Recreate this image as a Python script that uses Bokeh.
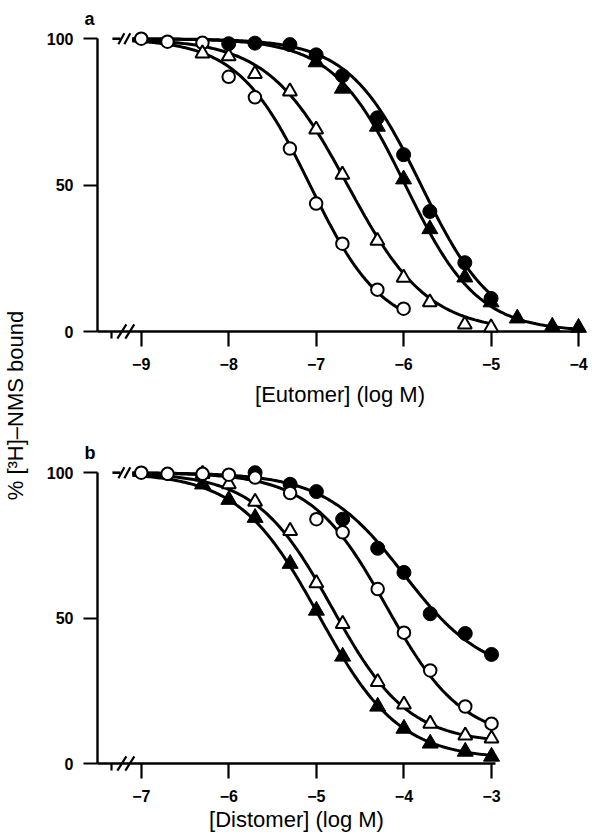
import numpy as np
from bokeh.plotting import figure
from bokeh.layouts import row, column
from bokeh.models import Range1d, FixedTicker
from bokeh.embed import file_html
from bokeh.resources import INLINE
from bokeh.core.properties import value

FONT = "Liberation Sans"

# ---------------- Panel a (eutomer) ----------------
a_x_ticks = [-9.0, -8.0, -7.0, -6.0, -5.0, -4.0]
a_x_labels = ["\u22129", "\u22128", "\u22127", "\u22126", "\u22125", "\u22124"]
a_x_title = "[Eutomer] (log M)"

a_open_circle_x = [-9.0, -8.7, -8.3, -8.0, -7.7, -7.3, -7.0, -6.7, -6.3, -6.0]
a_open_circle_y = [100, 99, 98.6, 87, 80, 62.5, 43.7, 30, 14.3, 7.8]
a_open_tri_x = [-8.3, -8.0, -7.7, -7.3, -7.0, -6.7, -6.3, -6.0, -5.7, -5.3, -5.0]
a_open_tri_y = [95, 94, 88, 82, 69, 53.6, 31, 18.4, 10, 2.4, 1.4]
a_filled_circle_x = [-8.0, -7.7, -7.3, -7.0, -6.7, -6.3, -6.0, -5.7, -5.3, -5.0]
a_filled_circle_y = [98.3, 98.5, 98, 94.5, 87.4, 73, 60.4, 41, 23.5, 11.3]
a_filled_tri_x = [-7.0, -6.7, -6.3, -6.0, -5.7, -5.3, -5.0, -4.7, -4.3, -4.0]
a_filled_tri_y = [92, 83, 70, 52, 35, 18.5, 10, 4.5, 1.7, 1.3]

# fitted curve parameters: (top, bottom, log IC50, slope, x end)
a_fit_open_circle = (100, 0, -7.07, 1.05, -6.0)
a_fit_open_tri = (100, 0, -6.64, 0.95, -5.0)
a_fit_filled_circle = (100, 0, -5.80, 1.05, -5.0)
a_fit_filled_tri = (100, 0, -5.98, 1.05, -4.0)

# ---------------- Panel b (distomer) ----------------
b_x_ticks = [-7.0, -6.0, -5.0, -4.0, -3.0]
b_x_labels = ["\u22127", "\u22126", "\u22125", "\u22124", "\u22123"]
b_x_title = "[Distomer] (log M)"

b_open_circle_x = [-7.0, -6.7, -6.3, -6.0, -5.7, -5.3, -5.0, -4.7, -4.3, -4.0, -3.7, -3.3, -3.0]
b_open_circle_y = [100, 99.6, 99.6, 99.3, 98.3, 93, 84, 79.5, 60, 45, 32, 19.6, 13.7]
b_filled_circle_x = [-5.7, -5.3, -5.0, -4.7, -4.3, -4.0, -3.7, -3.3, -3.0]
b_filled_circle_y = [100, 96, 93.5, 84, 74, 65.7, 51.5, 44.7, 37.5]
b_open_tri_x = [-6.3, -6.0, -5.7, -5.3, -5.0, -4.7, -4.3, -4.0, -3.7, -3.3, -3.0]
b_open_tri_y = [99.6, 96, 90, 80, 62, 48, 28, 20.3, 13.7, 9.6, 8.6]
b_filled_tri_x = [-6.3, -6.0, -5.7, -5.3, -5.0, -4.7, -4.3, -4.0, -3.7, -3.3, -3.0]
b_filled_tri_y = [96, 90.7, 84.5, 68.7, 52.6, 36.8, 19.6, 12, 6.9, 4.1, 2.4]

b_fit_open_circle = (100, 8, -4.2, 1.0, -3.0)
b_fit_filled_circle = (100, 30, -4.0, 0.95, -3.0)
b_fit_open_tri = (100, 7, -4.82, 1.0, -3.0)
b_fit_filled_tri = (100, 1.5, -4.97, 0.95, -3.0)

y_ticks = [0, 50, 100]
y_title = "% [\u00b3H]\u2013NMS bound"

PX = 88.0  # pixels per log unit


def hill(x, top, bottom, x50, n):
    return bottom + (top - bottom) / (1 + 10 ** (n * (x - x50)))


def make_panel(letter, x_start, frame_w, frame_h, bl, br, bt, bb,
               xticks, xlabels, xtitle, label_standoff, series, fits):
    x_end = x_start + frame_w / PX
    p = figure(width=bl + frame_w + br, height=bt + frame_h + bb,
               x_range=Range1d(x_start, x_end), y_range=Range1d(0, 103.5),
               min_border_left=bl, min_border_right=br, min_border_top=bt,
               min_border_bottom=bb, toolbar_location=None, output_backend="svg",
               title=letter)
    p.title.align = "left"
    p.title.offset = -13
    p.title.standoff = 0
    p.title.text_font = FONT
    p.title.text_font_size = "18px"
    p.title.text_font_style = "bold"
    p.title.text_color = "black"
    p.outline_line_color = None
    p.grid.visible = False
    p.background_fill_color = "white"
    p.border_fill_color = "white"

    xa = p.xaxis[0]
    xa.ticker = FixedTicker(ticks=xticks, minor_ticks=[x_start + 14 / PX])
    xa.major_label_overrides = {t: l for t, l in zip(xticks, xlabels)}
    xa.major_tick_out = 15
    xa.major_tick_in = 0
    xa.minor_tick_out = 7
    xa.minor_tick_in = 0
    xa.major_tick_line_width = 2.2
    xa.minor_tick_line_width = 2.2
    xa.axis_line_width = 2.4
    xa.axis_line_color = "black"
    xa.major_tick_line_color = "black"
    xa.minor_tick_line_color = "black"
    xa.major_label_text_font = FONT
    xa.major_label_text_font_size = "16px"
    xa.major_label_text_font_style = "bold"
    xa.major_label_text_color = "black"
    xa.major_label_standoff = 11
    xa.axis_label = xtitle
    xa.axis_label_text_font = FONT
    xa.axis_label_text_font_size = "22px"
    xa.axis_label_text_font_style = "normal"
    xa.axis_label_text_color = "black"
    xa.axis_label_standoff = label_standoff

    ya = p.yaxis[0]
    ya.ticker = FixedTicker(ticks=y_ticks, minor_ticks=[])
    ya.bounds = (0, 100)
    ya.major_tick_out = 14
    ya.major_tick_in = 0
    ya.major_tick_line_width = 2.2
    ya.axis_line_width = 2.4
    ya.axis_line_color = "black"
    ya.major_tick_line_color = "black"
    ya.major_label_text_font = FONT
    ya.major_label_text_font_size = "16px"
    ya.major_label_text_font_style = "bold"
    ya.major_label_text_color = "black"
    ya.major_label_standoff = 10
    ya.major_label_orientation = "horizontal"

    # fitted curves
    x0c = x_start + 35 / PX
    for (top, bottom, x50, n, xe) in fits:
        xs = np.linspace(x0c, xe, 200)
        p.line(xs, hill(xs, top, bottom, x50, n), line_color="black",
               line_width=3)

    # axis breaks (//) and control line at 100 %
    sy = 5.5 * 103.5 / frame_h  # half height of a break slash in data units
    p.segment(x0=[x_start + 15 / PX], y0=[100], x1=[x_start + 23 / PX], y1=[100],
              line_color="black", line_width=2.6, level="overlay")
    p.segment(x0=[x_start + 21 / PX, x_start + 27 / PX],
              y0=[100 - sy, 100 - sy],
              x1=[x_start + 27 / PX, x_start + 33 / PX],
              y1=[100 + sy, 100 + sy],
              line_color="black", line_width=2.2, level="overlay")
    p.segment(x0=[x_start + 20 / PX, x_start + 28 / PX],
              y0=[-1.3 * sy, -1.3 * sy],
              x1=[x_start + 29 / PX, x_start + 37 / PX],
              y1=[1.3 * sy, 1.3 * sy],
              line_color="black", line_width=2.2, level="overlay")

    for (xs, ys, marker, filled) in series:
        if marker == "circle":
            size = 14 if filled else 12.5
        else:
            size = 16 if filled else 14
        p.scatter(xs, ys, marker=marker, size=size,
                  fill_color="black" if filled else "white",
                  line_color="black", line_width=1 if filled else 2,
                  level="overlay")
    return p


# page has no margin with Bokeh's template: layout pixels == page pixels
LAB_W = 32
pa = make_panel(
    "a", -9.5, 488, 303, 65, 7, 28, 89, a_x_ticks, a_x_labels, a_x_title, 9,
    [(a_open_circle_x, a_open_circle_y, "circle", False),
     (a_open_tri_x, a_open_tri_y, "triangle", False),
     (a_filled_tri_x, a_filled_tri_y, "triangle", True),
     (a_filled_circle_x, a_filled_circle_y, "circle", True)],
    [a_fit_open_circle, a_fit_open_tri, a_fit_filled_circle, a_fit_filled_tri])

pb = make_panel(
    "b", -7.5, 400, 301, 63, 10, 42, 74, b_x_ticks, b_x_labels, b_x_title, 2,
    [(b_filled_circle_x, b_filled_circle_y, "circle", True),
     (b_filled_tri_x, b_filled_tri_y, "triangle", True),
     (b_open_tri_x, b_open_tri_y, "triangle", False),
     (b_open_circle_x, b_open_circle_y, "circle", False)],
    [b_fit_open_circle, b_fit_filled_circle, b_fit_open_tri, b_fit_filled_tri])

# shared y-axis title in its own narrow figure
H = 837
lab = figure(width=LAB_W, height=H, x_range=Range1d(0, LAB_W), y_range=Range1d(0, H),
             min_border=0, toolbar_location=None, output_backend="svg",
             x_axis_location=None, y_axis_location=None)
lab.outline_line_color = None
lab.grid.visible = False
lab.text(x=[15], y=[H - 405], text=[y_title], angle=np.pi / 2,
         text_align="center", text_baseline="middle",
         text_font=value(FONT), text_font_size="22px", text_color="black")

layout = row(lab, column(pa, pb))
open("out.html", "w").write(file_html(layout, INLINE))
